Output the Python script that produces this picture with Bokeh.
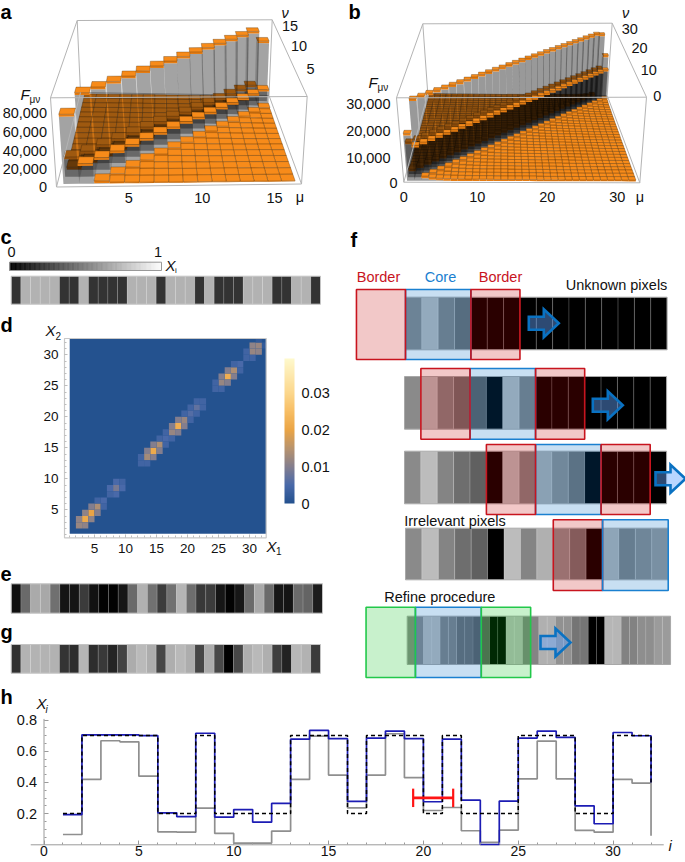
import numpy as np
from bokeh.plotting import figure
from bokeh.layouts import column, row
from bokeh.models import Range1d, FixedTicker, LinearColorMapper, ColorBar, ColumnDataSource
from bokeh.transform import transform
from bokeh.core.properties import value
from bokeh.embed import file_html
from bokeh.resources import INLINE

FONT = "Liberation Sans"

# ---- panel h series (also the strips c, e, g) ----
pixel_index = list(range(1, 33))
x_true = [0.2, 0.7, 0.7, 0.7, 0.7, 0.2, 0.2, 0.7, 0.2, 0.2, 0.2, 0.2, 0.7, 0.7, 0.7, 0.2,
          0.7, 0.7, 0.7, 0.2, 0.7, 0.2, 0.2, 0.2, 0.7, 0.7, 0.7, 0.2, 0.2, 0.7, 0.7, 0.2]
x_refined = [0.194, 0.705, 0.705, 0.705, 0.70, 0.205, 0.18, 0.715, 0.177, 0.226, 0.145, 0.265,
             0.677, 0.733, 0.68, 0.278, 0.684, 0.729, 0.68, 0.276, 0.677, 0.286, 0.002, 0.28,
             0.684, 0.729, 0.688, 0.25, 0.135, 0.72, 0.699, 0.235]
x_initial = [0.066, 0.419, 0.667, 0.66, 0.44, 0.083, 0.081, 0.235, 0.073, 0.011, 0.011, 0.088,
             0.419, 0.697, 0.447, 0.237, 0.447, 0.712, 0.43, 0.22, 0.239, 0.09, 0.015, 0.094,
             0.423, 0.665, 0.423, 0.092, 0.081, 0.419, 0.395, 0.11]
line_end_true = 0.40
line_end_refined = 0.40
line_end_initial = 0.058
h_x_ticks = [0, 5, 10, 15, 20, 25, 30]
h_y_ticks = [0.2, 0.4, 0.6, 0.8]
error_bar = (19.46, 21.57, 0.301, 0.059)

# ---- panel d ----
heat_i = [3, 4, 2, 5, 2, 3, 3, 4, 4, 5, 5, 6, 6, 8, 7, 8, 8, 9, 7, 9,
          14, 13, 15, 13, 14, 14, 15, 12, 12, 13, 16, 15, 16,
          18, 17, 19, 17, 18, 18, 19, 16, 17, 20, 19, 20, 21, 20, 21, 22, 21, 22,
          26, 25, 27, 25, 26, 26, 27, 24, 24, 25, 28, 27, 28,
          30, 31, 30, 31, 29, 29, 30, 32, 31]
heat_j = [3, 4, 2, 5, 3, 2, 4, 3, 5, 4, 6, 5, 6, 8, 8, 7, 9, 8, 7, 9,
          14, 13, 15, 14, 13, 15, 14, 12, 13, 12, 16, 16, 15,
          18, 17, 19, 18, 17, 19, 18, 17, 16, 20, 20, 19, 21, 21, 20, 22, 22, 21,
          26, 25, 27, 26, 25, 27, 26, 24, 25, 24, 28, 28, 27,
          30, 31, 31, 30, 29, 30, 29, 31, 32]
heat_v = [.021, .020, .012, .014, .011, .011, .011, .011, .010, .010, .004, .004, .005, .009, .005, .005, .005, .005, .004, .004,
          .021, .013, .014, .010, .010, .010, .010, .004, .004, .004, .005, .004, .004,
          .022, .012, .012, .010, .010, .010, .010, .004, .004, .006, .004, .004, .007, .004, .004, .004, .004, .004,
          .022, .012, .014, .010, .010, .010, .010, .004, .004, .004, .005, .004, .004,
          .012, .012, .011, .011, .004, .004, .004, .002, .002]
heat_stops = [0, .005, .01, .015, .02, .025, .03, .0394]
heat_colors = [(36, 82, 143), (74, 106, 170), (133, 127, 142), (185, 148, 110),
               (235, 165, 70), (248, 190, 100), (252, 215, 140), (255, 250, 205)]
d_ticks = [5, 10, 15, 20, 25, 30]
cb_ticks = [0, .01, .02, .03]

# ---- panel f: gray levels of the 16 pixels ----
f_pixels = [138, 188, 132, 110, 96, 0, 188, 132, 176, 145, 117, 0, 182, 130, 142, 155]

# ---- panel a: F values by distance from the diagonal ----
a_diag = [76000, 93000, 93000, 93000, 93000, 93000, 93000, 93000, 93000, 93000, 93000, 93000, 93000, 93000, 93000, 76000]
a_off1 = [22000, 21000, 21000, 21000, 21000, 21000, 21000, 21000, 20000, 20000, 20000, 20000, 20000, 20000, 20000]
a_off2 = [3000, 3000, 3000, 3500, 3000, 3500, 3000, 3000, 3500, 3000, 3000, 3500, 3000, 3000]
a_far = [1500, 1200, 1000, 900, 800, 800, 900, 1000, 800, 800, 700, 700, 600]
a_ticks_f = [0, 20000, 40000, 60000, 80000]

# ---- panel b ----
b_diag = [18000] + [30000] * 29 + [29000, 19000]
b_off1 = [13500] * 31
b_off2 = [1800] * 30
b_far = [1200, 1000, 900, 800, 800, 700, 700, 700, 700, 600, 600, 600, 600, 600, 600, 500, 500, 500, 500, 500, 500,
         500, 500, 500, 500, 500, 500, 500, 500]
b_ticks_f = [0, 10000, 20000, 30000]


def gray(v):
    g = int(v * 255)
    return "#%02x%02x%02x" % (g, g, g)


def canvas(x0, y0, w, h):
    p = figure(width=w, height=h, x_range=Range1d(x0, x0 + w), y_range=Range1d(y0 + h, y0),
               toolbar_location=None, output_backend="svg", min_border=0,
               x_axis_location=None, y_axis_location=None, outline_line_color=None)
    p.grid.visible = False
    return p


def txt(p, x, y, s, size=14.5, color="#111111", align="left", base="middle", style="normal"):
    p.text(x=[x], y=[y], text=[s], text_font=value(FONT), text_font_size=f"{size}px",
           text_color=color, text_align=align, text_baseline=base, text_font_style=style)


def letter(p, x, y, s):
    txt(p, x, y, s, size=20, color="#000000", style="bold")


def homography(src, dst):
    A, b = [], []
    for (x, y), (u, v) in zip(src, dst):
        A.append([x, y, 1, 0, 0, 0, -u * x, -u * y]); b.append(u)
        A.append([0, 0, 0, x, y, 1, -v * x, -v * y]); b.append(v)
    h = np.linalg.solve(np.array(A, float), np.array(b, float))
    return np.append(h, 1).reshape(3, 3)


def bars3d(p, F, lo, hi, fmax, base, top, slab, line_alpha, wall, side):
    n = F.shape[0]
    src = [(lo, lo), (hi, lo), (hi, hi), (lo, hi)]
    H0, H1 = homography(src, base), homography(src, top)

    def pr(m, v, f):
        t = f / fmax
        a = H0 @ np.array([m, v, 1.0]); b = H1 @ np.array([m, v, 1.0])
        a = a[:2] / a[2]; b = b[:2] / b[2]
        q = a + (b - a) * t
        return q[0], q[1]

    xs, ys, fc, fa, lc, la = [], [], [], [], [], []

    def poly(pts, color, alpha, line=None, lalpha=0.0):
        xs.append([q[0] for q in pts]); ys.append([q[1] for q in pts])
        fc.append(color); fa.append(alpha); lc.append(line or color); la.append(lalpha)

    mid = (lo + hi) / 2
    for nu in range(n, 0, -1):
        order = sorted(range(1, n + 1), key=lambda m: -abs(m - mid))
        for mu in order:
            f = F[mu - 1, nu - 1]
            a0, a1, b0, b1 = mu - .5, mu + .5, nu - .5, nu + .5
            fb = max(f - slab, 0)
            sx = a1 if mu < mid else a0
            if fb > 0:
                poly([pr(sx, b0, 0), pr(sx, b1, 0), pr(sx, b1, fb), pr(sx, b0, fb)], "#000000", side)
                poly([pr(a0, b0, 0), pr(a1, b0, 0), pr(a1, b0, fb), pr(a0, b0, fb)], "#000000", wall)
            poly([pr(a0, b0, fb), pr(a1, b0, fb), pr(a1, b0, f), pr(a0, b0, f)], "#e57c12", 1)
            poly([pr(a0, b0, f), pr(a1, b0, f), pr(a1, b1, f), pr(a0, b1, f)], "#f78b1a", 1, "#4a2a05", line_alpha)
    p.patches(xs="xs", ys="ys", fill_color="fc", fill_alpha="fa", line_color="lc", line_alpha="la",
              line_width=.6, source=ColumnDataSource(dict(xs=xs, ys=ys, fc=fc, fa=fa, lc=lc, la=la)))
    return pr


def box_lines(p, pts):
    for (a, b) in pts:
        p.line([a[0], b[0]], [a[1], b[1]], line_color="#b4b4b4", line_width=1)


def matrix(diag, off1, off2, far):
    n = len(diag)
    M = np.zeros((n, n))
    for i in range(n):
        for j in range(n):
            d = abs(i - j); k = min(i, j)
            M[i, j] = diag[i] if d == 0 else off1[k] if d == 1 else off2[k] if d == 2 else far[d - 3]
    return M


def style_axis(ax, size, color, tick, minor, standoff):
    ax.major_label_text_font = FONT
    ax.major_label_text_font_size = size
    ax.major_label_text_color = "#111111"
    ax.axis_line_color = None
    ax.major_tick_line_color = color
    ax.minor_tick_line_color = color
    ax.major_tick_in = tick
    ax.major_tick_out = 0
    ax.minor_tick_in = minor
    ax.minor_tick_out = 0
    ax.major_label_standoff = standoff


# ==== panel a ====
pa = canvas(0, 0, 340, 220)
a_base = [(56, 186.5), (301, 183.5), (268.5, 95), (80, 92)]
a_top = [(50, 97.3), (306.7, 96), (271.7, 19.3), (76.7, 20)]
box_lines(pa, [(a_top[2], a_top[3]), (a_top[3], a_base[3]), (a_top[2], a_base[2]), (a_base[2], a_base[3]),
               (a_top[0], a_top[3]), (a_top[1], a_top[2])])
bars3d(pa, matrix(a_diag, a_off1, a_off2, a_far), 0.1, 16.9, 96700, a_base, a_top, 2500, .55, .36, .17)
box_lines(pa, [(a_top[0], a_top[1]), (a_top[0], a_base[0]), (a_top[1], a_base[1]), (a_base[0], a_base[1]),
               (a_base[1], a_base[2]), (a_base[0], a_base[3])])
for v, y in zip(a_ticks_f, [186.5, 168.3, 150, 131.7, 112.7]):
    txt(pa, 46.5, y, f"{v:,}", align="right")
for s, x in zip(["5", "10", "15"], [128.3, 201.7, 274]):
    txt(pa, x, 197.3, s, align="center")
txt(pa, 299.5, 196.5, "μ", align="center")
for s, x, y in zip(["5", "10", "15"], [310, 298.5, 289.5], [68.5, 45.5, 25]):
    txt(pa, x, y, s, align="center")
txt(pa, 284.5, 12.5, "ν", align="center", style="italic")
txt(pa, 20, 94, "F", size=15, style="italic")
txt(pa, 29, 99, "μν", size=10)
letter(pa, 0, 11, "a")

# ==== panel b ====
pb = canvas(340, 0, 345, 220)
b_base = [(403.3, 181.7), (639.3, 182.3), (606.7, 95), (427.3, 93.3)]
b_top = [(396, 97.3), (646, 96.7), (611.7, 22.7), (422.3, 23.3)]
box_lines(pb, [(b_top[2], b_top[3]), (b_top[3], b_base[3]), (b_top[2], b_base[2]), (b_base[2], b_base[3]),
               (b_top[0], b_top[3]), (b_top[1], b_top[2])])
bars3d(pb, matrix(b_diag, b_off1, b_off2, b_far), 0.1, 33, 32000, b_base, b_top, 800, .55, .40, .25)
box_lines(pb, [(b_top[0], b_top[1]), (b_top[0], b_base[0]), (b_top[1], b_base[1]), (b_base[0], b_base[1]),
               (b_base[1], b_base[2]), (b_base[0], b_base[3])])
for v, y, x in zip(b_ticks_f, [182.7, 157.3, 130, 103.3], [397, 390, 390, 390]):
    txt(pb, x, y, f"{v:,}", align="right")
for s, x in zip(["0", "10", "20", "30"], [403.3, 476.7, 546.7, 616.7]):
    txt(pb, x, 196.7, s, align="center")
txt(pb, 639.5, 196.5, "μ", align="center")
for s, x, y in zip(["0", "10", "20", "30"], [656.7, 648.3, 639, 629.3], [95.7, 69.3, 47.7, 28.3]):
    txt(pb, x, y, s, align="center")
txt(pb, 625, 12.5, "ν", align="center", style="italic")
txt(pb, 368, 82, "F", size=15, style="italic")
txt(pb, 377, 87, "μν", size=10)
letter(pb, 348, 11, "b")


def strip(p, vals, x0, x1, top, bottom):
    w = (x1 - x0) / len(vals)
    lefts = [x0 + i * w for i in range(len(vals))]
    p.quad(left=lefts, right=[a + w for a in lefts], top=top, bottom=bottom, fill_color=[gray(v) for v in vals],
           line_color="#ffffff", line_alpha=.12, line_width=1)
    p.quad(left=[x0], right=[x1], top=top, bottom=bottom, fill_alpha=0, line_color="#c4c4c4", line_width=1)


# ==== panel c ====
pc = canvas(0, 220, 340, 92)
grad = np.linspace(0, 1, 121)
gw = (161 - 9.3) / 120
grad_cols = [gray(v) for v in grad]
pc.quad(left=9.3 + grad * 120 * gw, right=9.3 + grad * 120 * gw + gw, top=261.7, bottom=270,
        fill_color=grad_cols, line_color=grad_cols, line_width=.6)
pc.quad(left=[9.3], right=[161], top=261.7, bottom=270, fill_alpha=0, line_color="#999999", line_width=1)
strip(pc, x_true, 10.7, 320, 275.7, 303.7)
txt(pc, 11, 251, "0", align="center")
txt(pc, 157.5, 251, "1", align="center")
txt(pc, 165, 265, "X", size=15, style="italic")
txt(pc, 174.5, 270, "i", size=8)
letter(pc, 0, 236, "c")

# ==== panel d ====
levels = np.linspace(0, .0394, 256)
palette = ["#%02x%02x%02x" % tuple(int(np.interp(l, heat_stops, [c[k] for c in heat_colors])) for k in range(3))
           for l in levels]
mapper = LinearColorMapper(palette=palette, low=0, high=.0394)


def dx(px):
    return 5 + (px - 94) / 6.2


def dy(py):
    return 5 + (509.3 - py) / 6.2


d_left, d_right, d_bottom, d_top = dx(64), dx(265.7), dy(537.3), dy(338)
pd_ = figure(frame_width=340, frame_height=250, x_range=Range1d(dx(0), dx(340)), y_range=Range1d(dy(562), dy(312)),
             toolbar_location=None, output_backend="svg", min_border=0, outline_line_color=None)
pd_.grid.visible = False
pd_.quad(left=[1], right=[d_right], bottom=[1.13], top=[d_top], fill_color=palette[0], line_color=None)
pd_.quad(left="l", right="r", bottom="b", top="t", line_color=None,
         fill_color=transform("v", mapper),
         source=ColumnDataSource(dict(l=heat_i, r=[min(i + 1, d_right) for i in heat_i],
                                      b=heat_j, t=[min(j + 1, d_top) for j in heat_j], v=heat_v)))
pd_.quad(left=[d_left], right=[d_right], bottom=[d_bottom], top=[d_top], fill_alpha=0, line_color="#c8c8c8", line_width=1.2)
pd_.xaxis.fixed_location = d_bottom
pd_.yaxis.fixed_location = d_left
for ax in (pd_.xaxis[0], pd_.yaxis[0]):
    ax.ticker = FixedTicker(ticks=d_ticks, minor_ticks=list(range(1, 33)))
    style_axis(ax, "13.5px", "#bdbdbd", 3, 2, 6)
cb = ColorBar(color_mapper=mapper, width=10, height=145, padding=0, location=(284, 59),
              ticker=FixedTicker(ticks=cb_ticks), major_label_overrides={0: "0", .01: "0.01", .02: "0.02", .03: "0.03"},
              major_tick_line_color=None, minor_tick_line_color=None, bar_line_color=None,
              major_label_text_font=FONT, major_label_text_font_size="14.5px", major_label_text_color="#111111",
              label_standoff=7)
pd_.add_layout(cb, "center")
txt(pd_, dx(45), dy(330), "X", size=15, style="italic")
txt(pd_, dx(55), dy(335.7), "2", size=10)
txt(pd_, dx(266), dy(545.7), "X", size=15, style="italic")
txt(pd_, dx(275.5), dy(550.7), "1", size=10)
letter(pd_, dx(0), dy(324), "d")

# ==== panels e, g ====
pe = canvas(0, 562, 340, 58)
strip(pe, x_initial, 10.7, 322, 583.3, 612.7)
letter(pe, 0, 573, "e")
pg = canvas(0, 620, 340, 60)
strip(pg, x_refined, 10.7, 320, 644, 672.7)
letter(pg, 0, 631, "g")

# ==== panel f ====
pf = canvas(340, 220, 345, 460)
RED, BLUE, GREEN = "#c20000", "#006ac2", "#00be14"
LINE = {RED: "#c8141e", BLUE: "#1a80d0", GREEN: "#22c84a"}
f_rows = [
    (405.0, 16.35, 296.7, 349.3, 289, 359, 4, [(BLUE, 0, 4), (RED, -3, 0), (RED, 4, 7)], 1),
    (404.0, 16.38, 376.0, 428.7, 368, 438.7, 8, [(BLUE, 4, 8), (RED, 1, 4), (RED, 8, 11)], 1),
    (404.0, 16.38, 450.7, 503.3, 444, 514, 12, [(BLUE, 8, 12), (RED, 5, 8), (RED, 12, 15)], 1),
    (405.0, 16.42, 527.7, 579.3, 519.3, 590, 16, [(RED, 9, 12), (BLUE, 12, 16)], 1),
    (406.7, 8.23, 615.7, 664.0, 606.7, 677, 16, [(BLUE, 1, 9), (GREEN, -5, 1), (GREEN, 9, 15)], 2),
]
for x0, cw, top, bot, btop, bbot, known, boxes, rep in f_rows:
    vals = [f_pixels[i] if i < known else 0 for i in range(16) for _ in range(rep)]
    lefts = [x0 + i * cw for i in range(len(vals))]
    pf.quad(left=lefts, right=[a + cw for a in lefts], top=top, bottom=bot,
            fill_color=["#%02x%02x%02x" % (v, v, v) for v in vals], line_color="#ffffff",
            line_alpha=.2 / rep, line_width=.8)
    pf.quad(left=[x0], right=[x0 + cw * len(vals)], top=top, bottom=bot, fill_alpha=0, line_color="#a8a8a8", line_width=1)
    for col, a, b in boxes:
        pf.quad(left=[x0 + a * cw], right=[x0 + b * cw], top=btop, bottom=bbot, fill_color=col, fill_alpha=.216,
                line_color=LINE[col], line_width=1.6)
arrow_u = [0, 15, 15, 30, 15, 15, 0]
arrow_v = [-6.5, -6.5, -14, 0, 14, 6.5, 6.5]
for ax_, ay_ in [(528.3, 322.7), (592.3, 404.7), (655, 478.3), (540, 642)]:
    pf.patch([ax_ + u for u in arrow_u], [ay_ + v for v in arrow_v], fill_color="#64a5ff", fill_alpha=.45,
             line_color="#0a72c2", line_width=2.6, line_join="miter")
txt(pf, 378, 276.7, "Border", color="#c8141e", align="center")
txt(pf, 440, 276.7, "Core", color="#1a80d0", align="center")
txt(pf, 500, 276.7, "Border", color="#c8141e", align="center")
txt(pf, 565.3, 284, "Unknown pixels")
txt(pf, 403.7, 520.7, "Irrelevant pixels")
txt(pf, 383.7, 596, "Refine procedure")
letter(pf, 350, 239, "f")


# ==== panel h ====
def hx(px):
    return (px - 43.5) / 18.97


def hy(py):
    return (844.3 - py) / 156


ph = figure(frame_width=685, frame_height=182, x_range=Range1d(hx(0), hx(685)), y_range=Range1d(hy(862), hy(680)),
            toolbar_location=None, output_backend="svg", min_border=0, outline_line_color=None)
ph.grid.visible = False
ph.line([-.7, 32.67], [0, 0], line_color="#9a9a9a", line_width=1)
ph.line([0, 0], [0, .807], line_color="#9a9a9a", line_width=1)
ph.step(pixel_index, x_initial[:31] + [line_end_initial], mode="after", line_color="#8f8f8f", line_width=1.7)
ph.step(pixel_index, x_refined[:31] + [line_end_refined], mode="after", line_color="#1c1cb4", line_width=1.7)
ph.step(pixel_index, x_true[:31] + [line_end_true], mode="after", line_color="#000000", line_width=1.5, line_dash="4 3")
e0, e1, ev, ecap = error_bar
ph.line([e0, e1], [ev, ev], line_color="#ff1414", line_width=2.6)
ph.segment([e0, e1], [ev - ecap] * 2, [e0, e1], [ev + ecap] * 2, line_color="#ff1414", line_width=2.2)
ph.xaxis.ticker = FixedTicker(ticks=h_x_ticks, minor_ticks=list(range(0, 33)))
ph.yaxis.ticker = FixedTicker(ticks=h_y_ticks, minor_ticks=[round(.05 * k, 2) for k in range(1, 17)])
ph.xaxis.fixed_location = 0
ph.yaxis.fixed_location = 0
ph.yaxis.major_label_overrides = {.2: "0.2", .4: "0.4", .6: "0.6", .8: "0.8"}
style_axis(ph.xaxis[0], "14px", "#9a9a9a", 4, 2, 1)
style_axis(ph.yaxis[0], "14.5px", "#9a9a9a", 4, 2, 7)
txt(ph, hx(36), hy(703), "X", size=15, style="italic")
txt(ph, hx(45), hy(709), "i", size=10, style="italic")
txt(ph, hx(668), hy(845), "i", size=15, style="italic")
letter(ph, hx(0), hy(696.5), "h")

root = column(row(pa, pb, spacing=0),
              row(column(pc, pd_, pe, pg, spacing=0), pf, spacing=0),
              ph, spacing=0)
root.styles = {"position": "absolute", "left": "0px", "top": "0px"}
open("out.html", "w").write(file_html(root, INLINE))
